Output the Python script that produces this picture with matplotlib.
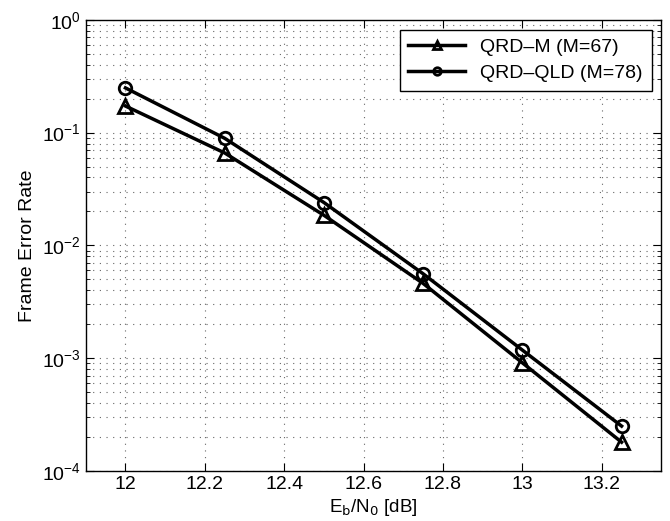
import matplotlib
matplotlib.use("Agg")
import matplotlib.pyplot as plt
import matplotlib.ticker as ticker

plt.rcParams["font.family"] = ["Liberation Sans", "DejaVu Sans"]

# data
ebn0 = [12.0, 12.25, 12.5, 12.75, 13.0, 13.25]
fer_qrdm = [0.172, 0.066, 0.0185, 0.0046, 0.00091, 0.00018]
fer_qrdqld = [0.249, 0.089, 0.024, 0.0056, 0.00118, 0.00025]
x_ticks = [12, 12.2, 12.4, 12.6, 12.8, 13, 13.2]
x_tick_labels = ["12", "12.2", "12.4", "12.6", "12.8", "13", "13.2"]

fig = plt.figure(figsize=(6.7, 5.21), dpi=100)
ax = fig.add_axes([0.128, 0.096, 0.859, 0.866])

ax.semilogy(ebn0, fer_qrdm, color="black", lw=2.5, marker="^", ms=10,
            mfc="none", mew=2, label="QRD\u2013M (M=67)")
ax.semilogy(ebn0, fer_qrdqld, color="black", lw=2.5, marker="o", ms=9,
            mfc="none", mew=2, label="QRD\u2013QLD (M=78)")

ax.set_xlim(11.9, 13.35)
ax.set_ylim(1e-4, 1)
ax.set_xticks(x_ticks)
ax.set_xticklabels(x_tick_labels)
ax.yaxis.set_major_locator(ticker.LogLocator(base=10, numticks=10))
ax.yaxis.set_minor_locator(ticker.LogLocator(base=10, subs=range(2, 10), numticks=20))
ax.yaxis.set_minor_formatter(ticker.NullFormatter())

ax.grid(which="major", axis="both", linestyle=(0, (1, 5)), color="#666666", lw=0.8)
ax.grid(which="minor", axis="y", linestyle=(0, (1, 5)), color="#666666", lw=0.8)
ax.tick_params(which="both", direction="in", top=True, right=True, labelsize=14)
ax.tick_params(which="major", length=6)
ax.tick_params(which="minor", length=3)
for s in ax.spines.values():
    s.set_linewidth(1.0)

ax.set_xlabel(r"E$_\mathrm{b}$/N$_0$ [dB]", fontsize=13.5, labelpad=3)
ax.set_ylabel("Frame Error Rate", fontsize=14)

leg = ax.legend(loc="upper right", fontsize=14, fancybox=False, framealpha=1,
                edgecolor="black", handlelength=2.9, borderaxespad=0.5,
                numpoints=1, markerscale=0.6, borderpad=0.45, labelspacing=0.45)
leg.get_frame().set_linewidth(1.0)

fig.savefig("out.png", dpi=100)
